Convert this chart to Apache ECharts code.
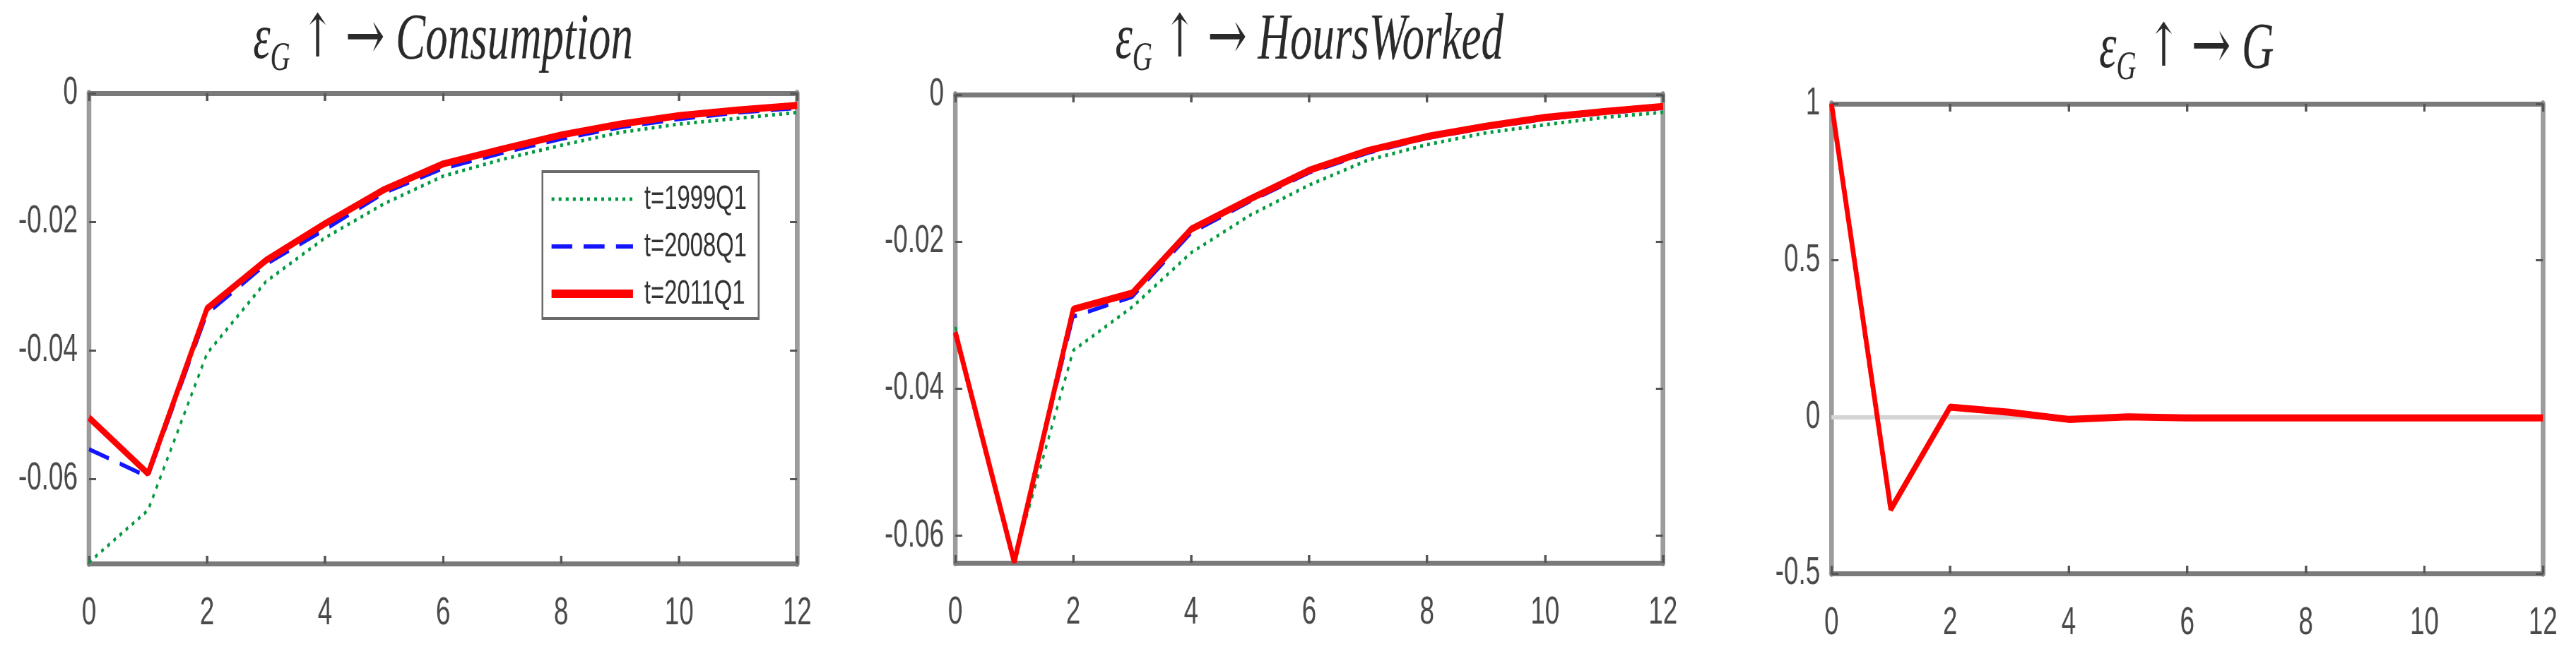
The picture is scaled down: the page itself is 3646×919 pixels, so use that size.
<!DOCTYPE html>
<html>
<head>
<meta charset="utf-8">
<script src="https://cdn.jsdelivr.net/npm/echarts@6/dist/echarts.min.js"></script>
<style>
  html, body { margin: 0; padding: 0; background: #fff; overflow: hidden; }
  #wrap { width: 3646px; height: 919px; overflow: hidden; position: relative; }
  #chart { width: 5442px; height: 919px; transform: scaleX(0.67); transform-origin: 0 0; }
</style>
</head>
<body>
<div id="wrap"><div id="chart"></div></div>
<script>
// ---- data ----
const periods = [0, 1, 2, 3, 4, 5, 6, 7, 8, 9, 10, 11, 12];
const xTickValues = [0, 2, 4, 6, 8, 10, 12];
const consTickValues = [-0.06, -0.04, -0.02, 0];
const hoursTickValues = [-0.06, -0.04, -0.02, 0];
const gTickValues = [-0.5, 0, 0.5, 1];
const seriesNames = ['t=1999Q1', 't=2008Q1', 't=2011Q1'];

const cons1999 = [-0.0730, -0.0649, -0.0405, -0.0293, -0.0225, -0.0172, -0.0129, -0.0103, -0.0081, -0.0061, -0.0048, -0.0039, -0.0030];
const cons2008 = [-0.0554, -0.0597, -0.0343, -0.0266, -0.0212, -0.0155, -0.0117, -0.0093, -0.0071, -0.0053, -0.0040, -0.0030, -0.0023];
const cons2011 = [-0.0505, -0.0592, -0.0335, -0.0260, -0.0203, -0.0150, -0.0110, -0.0087, -0.0065, -0.0048, -0.0035, -0.0026, -0.0019];

const hours1999 = [-0.0316, -0.0634, -0.0348, -0.0289, -0.0215, -0.0164, -0.0123, -0.0089, -0.0068, -0.0052, -0.0041, -0.0031, -0.0024];
const hours2008 = [-0.0323, -0.0635, -0.0302, -0.0275, -0.0188, -0.0145, -0.0106, -0.0079, -0.0059, -0.0045, -0.0033, -0.0025, -0.0018];
const hours2011 = [-0.0323, -0.0636, -0.0292, -0.0270, -0.0183, -0.0142, -0.0103, -0.0076, -0.0057, -0.0043, -0.0031, -0.0023, -0.0016];

const g2011 = [1.0, -0.295, 0.031, 0.015, -0.008, 0.0, -0.003, -0.003, -0.003, -0.003, -0.003, -0.003, -0.003];

const consRange = [-0.0732, 0];
const hoursRange = [-0.0637, 0];
const gRange = [-0.5, 1];

// ---- styling ----
const SANS = 'Liberation Sans, Arial, sans-serif';
const SERIF = 'Liberation Serif, Times New Roman, serif';
const COL = { g: '#009a3e', b: '#1414ff', r: '#ff0000' };

function pairs(arr) { return periods.map((t, i) => [t, arr[i]]); }

const grids = [
  { left: 188, top: 132, width: 1496, height: 666 },
  { left: 2018, top: 134, width: 1495, height: 663 },
  { left: 3869, top: 147, width: 1503, height: 665 }
];

function xAxisDef(gi, pos) {
  const bottom = pos === 'bottom';
  return {
    type: 'value', gridIndex: gi, position: pos, min: 0, max: 12, interval: 2,
    axisLine: { show: true, onZero: false, lineStyle: { color: '#7a7a7a', width: 7 } },
    axisTick: { show: true, inside: true, length: 11, customValues: xTickValues, lineStyle: { color: '#555', width: 5 } },
    axisLabel: { show: bottom, customValues: xTickValues, margin: 43, fontFamily: SANS, fontSize: 55, color: '#4a4a4a' },
    splitLine: { show: false }
  };
}
function yAxisDef(gi, pos, range, ticks) {
  const left = pos === 'left';
  return {
    type: 'value', gridIndex: gi, position: pos, min: range[0], max: range[1],
    axisLine: { show: true, onZero: false, lineStyle: { color: '#9c9c9c', width: 10 } },
    axisTick: { show: true, inside: true, length: 15, customValues: ticks, lineStyle: { color: '#555', width: 3 } },
    axisLabel: { show: left, customValues: ticks, margin: 24, fontFamily: SANS, fontSize: 55, color: '#4a4a4a',
                 formatter: v => String(v) },
    splitLine: { show: false }
  };
}

function lineSeries(name, data, gi, style) {
  return Object.assign({
    type: 'line', name: name, data: pairs(data), xAxisIndex: gi, yAxisIndex: gi,
    symbol: 'none', silent: true, animation: false,
    emphasis: { disabled: true }
  }, style);
}
const greenStyle = { z: 2, lineStyle: { color: COL.g, width: 5, type: [6, 9] }, itemStyle: { color: COL.g } };
const blueStyle = { z: 3, lineStyle: { color: COL.b, width: 6, type: [44, 24] }, itemStyle: { color: COL.b } };
const redStyle = { z: 4, lineStyle: { color: COL.r, width: 10, type: 'solid' }, itemStyle: { color: COL.r } };

function titleDef(x, top, subject) {
  const base = { fontFamily: SERIF, fontWeight: 'normal', color: '#2a2a2a' };
  return {
    left: x, top: top, textAlign: 'center', textVerticalAlign: 'top', padding: 0,
    text: '{e|ε}{s|G} {a|↑} {r|→} {i|' + subject + '}',
    textStyle: Object.assign({}, base, {
      fontSize: 92, lineHeight: 110,
      rich: {
        e: Object.assign({}, base, { fontStyle: 'italic', fontSize: 92, lineHeight: 110 }),
        s: Object.assign({}, base, { fontStyle: 'italic', fontSize: 58, lineHeight: 80, verticalAlign: 'bottom' }),
        a: Object.assign({}, base, { fontFamily: 'DejaVu Serif, serif', fontSize: 84, lineHeight: 110 }),
        r: Object.assign({}, base, { fontFamily: 'DejaVu Serif, serif', fontSize: 100, lineHeight: 110 }),
        i: Object.assign({}, base, { fontStyle: 'italic', fontSize: 94, lineHeight: 110 })
      }
    })
  };
}

const legendWidths = [5, 6, 12];

const option = {
  backgroundColor: '#ffffff',
  animation: false,
  title: [
    titleDef(936, 3, 'Consumption'),
    titleDef(2766, 3, 'HoursWorked'),
    titleDef(4619, 16, 'G')
  ],
  legend: {
    data: seriesNames.map((n, i) => ({ name: n, lineStyle: { width: legendWidths[i] } })),
    orient: 'vertical', left: 1146, top: 243,
    itemWidth: 172, itemHeight: 20, itemGap: 17,
    padding: [14, 25, 10, 13],
    backgroundColor: '#ffffff', borderColor: '#6a6a6a', borderWidth: 4,
    selectedMode: false,
    itemStyle: { opacity: 0, borderWidth: 0 },
    textStyle: { fontFamily: SANS, fontSize: 49, color: '#333', lineHeight: 50, padding: [0, 0, 0, 19] }
  },
  grid: grids,
  xAxis: [
    xAxisDef(0, 'bottom'), xAxisDef(1, 'bottom'), xAxisDef(2, 'bottom'),
    xAxisDef(0, 'top'), xAxisDef(1, 'top'), xAxisDef(2, 'top')
  ],
  yAxis: [
    yAxisDef(0, 'left', consRange, consTickValues),
    yAxisDef(1, 'left', hoursRange, hoursTickValues),
    yAxisDef(2, 'left', gRange, gTickValues),
    yAxisDef(0, 'right', consRange, consTickValues),
    yAxisDef(1, 'right', hoursRange, hoursTickValues),
    yAxisDef(2, 'right', gRange, gTickValues)
  ],
  series: [
    lineSeries(seriesNames[0], cons1999, 0, greenStyle),
    lineSeries(seriesNames[1], cons2008, 0, blueStyle),
    lineSeries(seriesNames[2], cons2011, 0, redStyle),
    lineSeries(seriesNames[0], hours1999, 1, greenStyle),
    lineSeries(seriesNames[1], hours2008, 1, blueStyle),
    lineSeries(seriesNames[2], hours2011, 1, redStyle),
    lineSeries(seriesNames[2], g2011, 2, Object.assign({}, redStyle, {
      markLine: {
        z: 1, silent: true, symbol: 'none', animation: false,
        label: { show: false },
        lineStyle: { color: '#d4d4d4', width: 6, type: 'solid' },
        data: [{ yAxis: 0 }]
      }
    }))
  ]
};

const chart = echarts.init(document.getElementById('chart'), null, { renderer: 'canvas' });
chart.setOption(option);
</script>
</body>
</html>
